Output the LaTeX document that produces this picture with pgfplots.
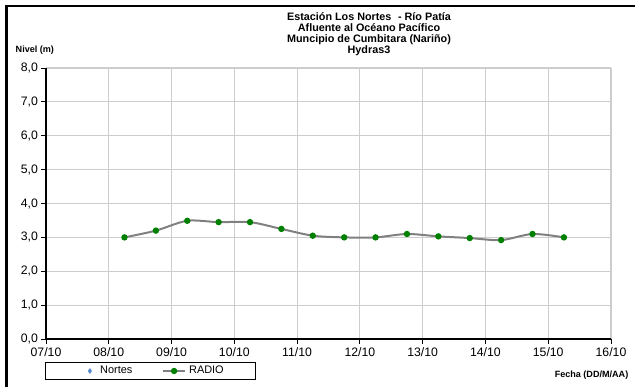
\documentclass[border=0pt]{standalone}
\usepackage{fontspec}
\setmainfont{Liberation Sans}
\usepackage{pgfplots}
\pgfplotsset{compat=1.18}
\definecolor{gridc}{RGB}{205,205,205}
\definecolor{linec}{RGB}{128,128,128}
\definecolor{markc}{RGB}{0,128,0}
\definecolor{nortc}{RGB}{90,140,205}
\begin{document}
\begin{tikzpicture}[x=0.75pt,y=-0.75pt]
\useasboundingbox (0,0) rectangle (635,386);
\begin{scope}
\clip (0,0) rectangle (635,386);
\draw[line width=1.9pt] (6.5,390) -- (6.5,6) -- (640,6);
\end{scope}
\begin{axis}[
  at={(34.5pt,-254.25pt)}, anchor=south west,
  scale only axis, width=423.75pt, height=203.25pt,
  xmin=7, xmax=16, ymin=0, ymax=8,
  xtick={7,...,16},
  xticklabels={07/10,08/10,09/10,10/10,11/10,12/10,13/10,14/10,15/10,16/10},
  ytick={0,...,8},
  /pgf/number format/.cd, use comma, fixed, fixed zerofill, precision=1, assume math mode=true,
  /pgfplots/.cd,
  axis x line*=bottom, axis y line*=left,
  axis line style={black, line width=0.8pt, -},
  tick align=outside, major tick length=3.5pt,
  tick style={black, line width=0.6pt},
  grid=major,
  major grid style={gridc, line width=0.9pt},
  tick label style={font=\fontsize{9.2}{10}\selectfont},
  yticklabel style={xshift=1pt},
  xticklabel style={yshift=0.5pt},
  clip=false,
  legend style={at={(-0.0018,-0.0865)}, anchor=north west, draw=black, line width=0.6pt,
     font=\fontsize{8.2}{9}\selectfont, inner xsep=22pt, inner ysep=0.5pt,
     /tikz/every even column/.append style={column sep=20pt}},
  legend columns=2,
]
\addlegendimage{draw=none, legend image code/.code={
   \path[draw=none, fill=none] (0cm,0cm) -- (0.6cm,0cm);
   \fill[nortc, draw=none] (0.4cm,2.2pt) -- (0.4cm+1.6pt,0pt) -- (0.4cm,-2.2pt) -- (0.4cm-1.6pt,0pt) -- cycle;}}
\addlegendentry{Nortes}
\addplot[smooth, linec, line width=1.5pt, mark=*, mark size=1.6pt,
  mark options={draw=markc, fill=markc}] coordinates {
  (8.25,3.00) (8.75,3.20) (9.25,3.49) (9.75,3.45) (10.25,3.45)
  (10.75,3.25) (11.25,3.05) (11.75,3.00) (12.25,3.00) (12.75,3.10)
  (13.25,3.03) (13.75,2.98) (14.25,2.92) (14.75,3.10) (15.25,3.00)
};
\addlegendentry{RADIO}
\end{axis}
\node[font=\bfseries\fontsize{8.1}{8.25}\selectfont, align=center] at (369,34)
  {Estación Los Nortes\,\, - Río Patía\\Afluente al Océano Pacífico\\Muncipio de Cumbitara (Nariño)\\Hydras3};
\node[font=\bfseries\fontsize{6.8}{7}\selectfont, anchor=west] at (11,50) {Nivel (m)};
\node[font=\bfseries\fontsize{6.8}{7}\selectfont, anchor=east] at (633,375.5) {Fecha (DD/M/AA)};
\end{tikzpicture}
\end{document}
